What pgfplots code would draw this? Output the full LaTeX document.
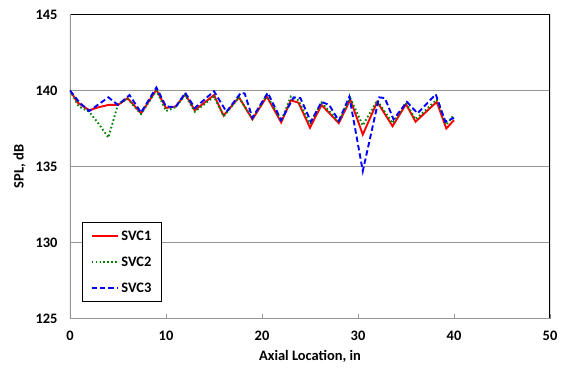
\documentclass[border=0pt]{standalone}
\usepackage{fontspec}
\setmainfont{Carlito}
\usepackage{pgfplots}
\usetikzlibrary{calc}
\pgfplotsset{compat=1.18}
\definecolor{gridgray}{RGB}{150,150,150}
\definecolor{svcgreen}{RGB}{0,128,0}
\newcommand{\cf}{\bfseries\fontsize{14.5}{17}\selectfont}
\begin{document}
\begin{tikzpicture}
\begin{axis}[
  scale only axis, width=480bp, height=304bp,
  xmin=0, xmax=50, ymin=125, ymax=145,
  xtick={0,10,...,50}, ytick={125,130,...,145},
  ymajorgrids, grid style={color=gridgray, line width=1.1pt},
  axis line style={draw=none},
  tick pos=left, tick align=inside,
  ytick style={draw=none},
  xtick style={draw=gridgray, line width=1pt},
  major tick length=5bp,
  /pgf/number format/assume math mode=true,
  tick label style={font=\cf},
  xticklabel style={yshift=-9bp},
  yticklabel style={xshift=-9bp},
  label style={font=\cf},
  xlabel={Axial Location, in},
  ylabel={SPL, dB},
  xlabel style={yshift=-3bp},
  ylabel style={yshift=3bp},
  legend style={at={(rel axis cs:0.025,0.317)}, anchor=north west,
    draw=black, line width=1.2pt, fill=white,
    font=\cf,
    row sep=11bp, inner xsep=8bp, inner ysep=6bp},
  legend cell align=left,
  legend image code/.code={\draw[#1] (0cm,0cm) -- (0.95cm,0cm);},
]
\coordinate (bl) at (rel axis cs:0,0);
\coordinate (tr) at (rel axis cs:1,1);
\draw[black, line width=1.3pt] (rel axis cs:0,1) -- (rel axis cs:1,1) -- (rel axis cs:1,0);
\draw[gridgray, line width=1.8pt] (rel axis cs:0,1) -- (rel axis cs:0,0) -- (rel axis cs:1,0);
\addplot[red, line width=1.9pt] coordinates {
(0,140.0) (0.8,139.2) (2,138.7) (3,138.9) (4,139.05) (5,139.05) (6,139.5) (7.4,138.5) (9,140.05) (10,138.85) (11,138.95) (12,139.75) (13,138.7) (15,139.7) (16,138.35) (17.6,139.55) (19,138.1) (20.5,139.6) (22,137.9) (23,139.35) (23.8,139.2) (25,137.55) (26.2,139.05) (28,137.85) (29.2,139.4) (30.5,137.1) (32,139.25) (33.6,137.65) (35,139.1) (36,137.95) (38.2,139.25) (39.2,137.5) (40,138.05)
};
\addlegendentry{SVC1}
\addplot[svcgreen, line width=1.9pt, dash pattern=on 1.6pt off 2.4pt] coordinates {
(0,140.0) (0.9,138.95) (2,138.6) (3,137.8) (4,136.9) (5,139.1) (6,139.45) (7.4,138.45) (9,140.0) (10,138.65) (11,138.9) (12,139.7) (13,138.6) (15,139.6) (16,138.3) (17.6,139.55) (19,138.15) (20.5,139.7) (22,138.0) (23,139.6) (23.8,139.35) (25,137.8) (26.2,139.2) (28,137.95) (29.2,139.5) (30.5,137.7) (32,139.35) (33.6,137.85) (35,139.2) (36,138.1) (38.2,139.4) (39.2,137.75) (40,138.4)
};
\addlegendentry{SVC2}
\addplot[blue, line width=1.9pt, dash pattern=on 5.5pt off 3pt] coordinates {
(0,140.0) (1,139.2) (2,138.65) (4,139.55) (5,139.05) (6.2,139.7) (7.4,138.55) (9,140.2) (10,138.95) (11,138.9) (12,139.85) (13,138.85) (15,139.95) (16.3,138.6) (17.8,139.85) (18.2,139.8) (19,138.2) (20.6,139.85) (22,138.05) (23.3,139.55) (24,139.5) (25.1,137.95) (26.2,139.25) (27,139.05) (28,138.0) (29.1,139.6) (30.5,134.7) (32.2,139.55) (32.8,139.5) (33.7,138.1) (35.1,139.25) (36.2,138.5) (38.1,139.75) (39.1,137.95) (40,138.2)
};
\addlegendentry{SVC3}
\end{axis}
\pgfresetboundingbox
\path ($(bl)+(-70bp,-53.5bp)$) rectangle ($(tr)+(13bp,14.5bp)$);
\end{tikzpicture}
\end{document}
